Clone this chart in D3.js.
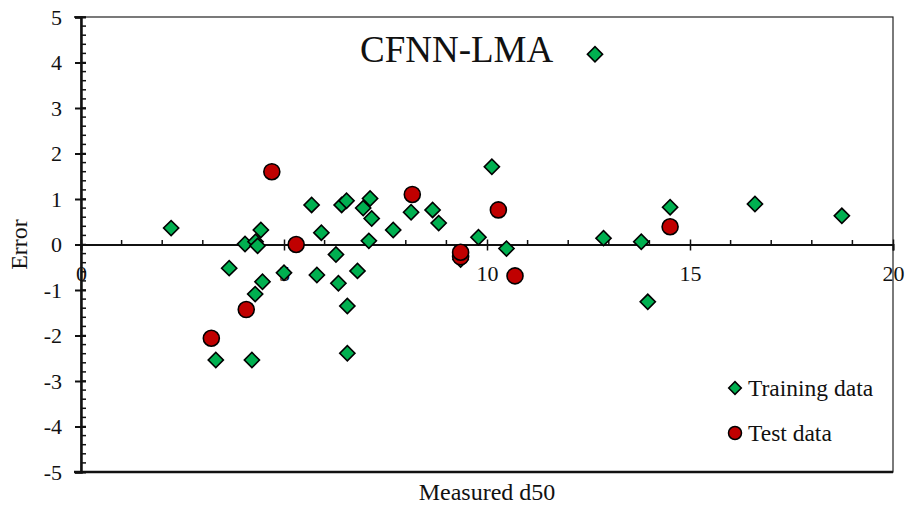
<!DOCTYPE html>
<html>
<head>
<meta charset="utf-8">
<script src="https://cdn.jsdelivr.net/npm/d3@7"></script>
<style>
  body { margin: 0; background: #fff; }
  svg text { font-family: "Liberation Serif", "Times New Roman", serif; fill: #111; }
</style>
</head>
<body>
<div id="graph"></div>
<script>
let w = 911;
let h = 511;

// training series (measured d50, error)
let trainX = [2.22, 3.65, 3.32, 4.04, 4.30, 4.35, 4.43, 4.47, 4.29, 4.21,
              5.00, 5.68, 5.92, 5.81, 6.28, 6.34, 6.42, 6.54, 6.56, 6.56,
              6.81, 6.95, 7.12, 7.16, 7.09, 7.69, 8.13, 8.66, 8.81, 9.35,
              9.79, 10.12, 10.48, 12.66, 12.87, 13.80, 13.96, 14.51, 16.60, 18.74];
let trainY = [0.36, -0.52, -2.54, 0.01, 0.06, -0.03, 0.32, -0.82, -1.09, -2.54,
              -0.62, 0.87, 0.26, -0.67, -0.22, -0.85, 0.87, 0.96, -1.35, -2.39,
              -0.58, 0.80, 1.01, 0.57, 0.08, 0.32, 0.71, 0.76, 0.47, -0.33,
              0.16, 1.71, -0.09, 4.18, 0.14, 0.06, -1.26, 0.82, 0.89, 0.63];

// test series
let testX = [3.21, 4.07, 4.70, 5.30, 8.16, 9.35, 9.35, 10.28, 10.69, 14.51];
let testY = [-2.06, -1.43, 1.60, 0.00, 1.10, -0.27, -0.17, 0.76, -0.69, 0.39];

let xTicks = [0, 5, 10, 15, 20];
let yTicks = [-5, -4, -3, -2, -1, 0, 1, 2, 3, 4, 5];
let legendNames = ["Training data", "Test data"];

let green = "#00B050";
let red = "#C00000";

let trainData = trainX.map(function(d, i){ return {x: d, y: trainY[i]}; });
let testData = testX.map(function(d, i){ return {x: d, y: testY[i]}; });

let xScale = d3.scaleLinear().domain([0, 20]).range([81, 893]);
let yScale = d3.scaleLinear().domain([-5, 5]).range([472, 17]);

// plain hyphen for negatives, like the original
function plainNumber(d){
  return String(d);
}

let viz = d3.select("#graph")
  .append("svg")
    .attr("width", w)
    .attr("height", h)
;

// plot area frame
viz.append("rect")
  .attr("x", xScale(0))
  .attr("y", yScale(5))
  .attr("width", xScale(20) - xScale(0))
  .attr("height", yScale(-5) - yScale(5))
  .attr("fill", "none")
  .attr("stroke", "#222")
  .attr("stroke-width", 1.2)
;
viz.append("line")
  .attr("x1", 74).attr("x2", xScale(20))
  .attr("y1", yScale(-5)).attr("y2", yScale(-5))
  .attr("stroke", "#111").attr("stroke-width", 2.5)
;
viz.append("line")
  .attr("x1", 74).attr("x2", xScale(0))
  .attr("y1", yScale(5)).attr("y2", yScale(5))
  .attr("stroke", "#111").attr("stroke-width", 1.5)
;

// y axis
let yAxis = d3.axisLeft(yScale).tickValues(yTicks).tickFormat(plainNumber).tickSize(6).tickPadding(13);
let yAxisGroup = viz.append("g").attr("class", "yaxis")
  .attr("transform", "translate(" + xScale(0) + ",0)")
  .call(yAxis);
yAxisGroup.select(".domain").attr("stroke", "#111").attr("stroke-width", 2.5);
yAxisGroup.selectAll(".tick line").attr("stroke", "#111").attr("stroke-width", 2).attr("x2", 5).attr("x1", -6);
yAxisGroup.selectAll("text").attr("font-size", 22).attr("fill", "#111");

let yMinor = d3.range(-5, 5.001, 0.2).map(function(v){ return Math.round(v * 10) / 10; });
viz.append("g").selectAll("line").data(yMinor).enter()
  .append("line")
    .attr("x1", xScale(0)).attr("x2", xScale(0) + 5)
    .attr("y1", function(d){ return yScale(d); })
    .attr("y2", function(d){ return yScale(d); })
    .attr("stroke", "#111").attr("stroke-width", 1.5)
;

// x axis on the zero line
let xAxis = d3.axisBottom(xScale).tickValues(xTicks).tickFormat(plainNumber).tickSize(6).tickPadding(15);
let xAxisGroup = viz.append("g").attr("class", "xaxis")
  .attr("transform", "translate(0," + yScale(0) + ")")
  .call(xAxis);
xAxisGroup.select(".domain").attr("stroke", "#111").attr("stroke-width", 2);
xAxisGroup.selectAll(".tick line").attr("stroke", "#111").attr("stroke-width", 1.5).attr("y1", -5);
xAxisGroup.selectAll("text").attr("font-size", 22).attr("fill", "#111");

let xMinor = d3.range(1, 20).filter(function(v){ return v % 5 != 0; });
viz.append("g").selectAll("line").data(xMinor).enter()
  .append("line")
    .attr("x1", function(d){ return xScale(d); })
    .attr("x2", function(d){ return xScale(d); })
    .attr("y1", yScale(0)).attr("y2", yScale(0) - 4.5)
    .attr("stroke", "#111").attr("stroke-width", 1.5)
;

// points
let diamond = d3.symbol().type(d3.symbolSquare).size(115);

viz.append("g").selectAll("path").data(trainData).enter()
  .append("path")
    .attr("d", diamond)
    .attr("transform", function(d){ return "translate(" + xScale(d.x) + "," + yScale(d.y) + ") rotate(45)"; })
    .attr("fill", green)
    .attr("stroke", "#000")
    .attr("stroke-width", 1.6)
;

viz.append("g").selectAll("circle").data(testData).enter()
  .append("circle")
    .attr("cx", function(d){ return xScale(d.x); })
    .attr("cy", function(d){ return yScale(d.y); })
    .attr("r", 8)
    .attr("fill", red)
    .attr("stroke", "#000")
    .attr("stroke-width", 1.6)
;

// title
viz.append("text")
  .text("CFNN-LMA")
  .attr("x", 360)
  .attr("y", 62)
  .attr("font-size", 37)
;

// axis titles
viz.append("text")
  .text("Measured d50")
  .attr("x", 487)
  .attr("y", 500)
  .attr("text-anchor", "middle")
  .attr("font-size", 24)
;
viz.append("text")
  .text("Error")
  .attr("transform", "translate(27," + yScale(0) + ") rotate(-90)")
  .attr("text-anchor", "middle")
  .attr("font-size", 24)
;

// legend
let legend = viz.append("g").attr("class", "legend");
legend.append("path")
  .attr("d", d3.symbol().type(d3.symbolSquare).size(80))
  .attr("transform", "translate(735,388) rotate(45)")
  .attr("fill", green).attr("stroke", "#000").attr("stroke-width", 1.5);
legend.append("circle")
  .attr("cx", 735).attr("cy", 433).attr("r", 6.5)
  .attr("fill", red).attr("stroke", "#000").attr("stroke-width", 1.5);
legend.selectAll("text").data(legendNames).enter()
  .append("text")
    .text(function(d){ return d; })
    .attr("x", 748)
    .attr("y", function(d, i){ return 396 + i * 45; })
    .attr("font-size", 23.5)
;
</script>
</body>
</html>
